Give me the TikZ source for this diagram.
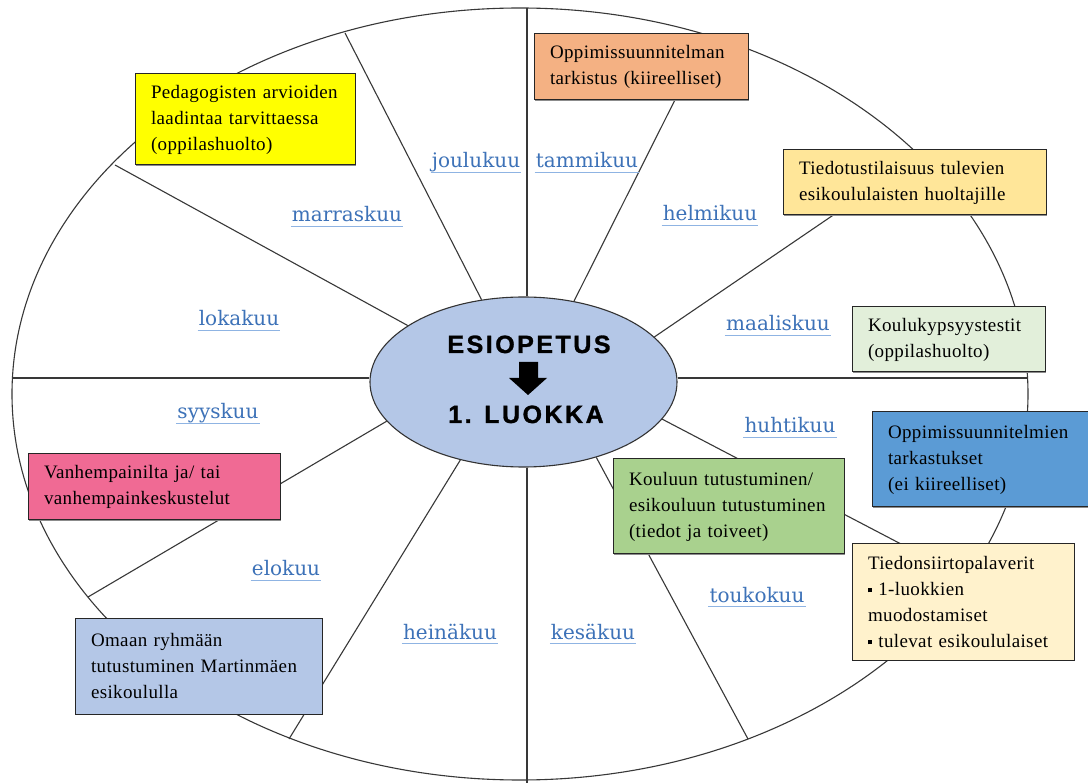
\documentclass[tikz,border=0pt]{standalone}
\usepackage{fontspec}
\setmainfont{Liberation Serif}
\newfontfamily\boxfont[LetterSpace=2]{Liberation Serif}
\newfontfamily\monthfont{DejaVu Serif}
\newfontfamily\headfont[LetterSpace=10,FakeBold=1.2]{Liberation Sans}
\usetikzlibrary{shapes.geometric,shadows}
\definecolor{cyellow}{HTML}{FFFF00}
\definecolor{corange}{HTML}{F4B183}
\definecolor{cgold}{HTML}{FFE699}
\definecolor{cmint}{HTML}{E2EFDA}
\definecolor{cblue}{HTML}{5B9BD5}
\definecolor{cgreen}{HTML}{A9D18E}
\definecolor{ccream}{HTML}{FFF2CC}
\definecolor{cpink}{HTML}{F06A94}
\definecolor{csteel}{HTML}{B4C7E7}
\definecolor{mtext}{HTML}{3D72B8}
\definecolor{mline}{HTML}{8FB4E3}
\tikzset{
  wheel/.style={draw=black!78, line width=1.1pt},
  box/.style={draw=black!85, line width=1pt, rectangle, inner xsep=16pt, inner ysep=0pt,
    align=left, font={\boxfont\fontsize{19}{26}\selectfont},
    drop shadow={shadow xshift=1.3pt, shadow yshift=-1.3pt, fill=black!45, opacity=1}},
  month/.style={font={\monthfont\fontsize{20}{24}\selectfont}, text=mtext, inner sep=1pt,
    text height=15pt, text depth=3pt,
    append after command={(\tikzlastnode.south west) edge[draw=mline, line width=1.1pt] (\tikzlastnode.south east)}},
  hub/.style={ellipse, draw=black!80, line width=1.1pt, fill=csteel, minimum width=307pt, minimum height=170pt, inner sep=0pt},
  headtxt/.style={font={\headfont\bfseries\fontsize{25}{28}\selectfont}, inner sep=0pt, anchor=base}
}
\begin{document}
\begin{tikzpicture}[x=1pt,y=-1pt]
\useasboundingbox (0,0) rectangle (1088,783);
\fill[white] (0,0) rectangle (1088,783);
% outer ellipse
\draw[wheel] (520,394) ellipse [x radius=508pt, y radius=386pt];
% hub
\node[hub] (c) at (523.5,382) {};
% spoke end points on the outer ellipse
\coordinate (pT) at (527,8);
\coordinate (pJ) at (706,38);
\coordinate (pI) at (920,156);
\coordinate (pR) at (1028,378);
\coordinate (pH) at (966,578);
\coordinate (pG) at (748,739);
\coordinate (pB0) at (527,790);
\coordinate (pE) at (289,739);
\coordinate (pD) at (88,597);
\coordinate (pL) at (12,378);
\coordinate (pBb) at (115,165);
\coordinate (pA) at (345,33);
\draw[wheel] (c.north -| pT) -- (pT);
\draw[wheel] (c.south -| pB0) -- (pB0);
\draw[wheel] (c.west |- pL) -- (pL);
\draw[wheel] (c.east |- pR) -- (pR);
\draw[wheel] (c.58.5) -- (pJ);
\draw[wheel] (c.19.7) -- (pI);
\draw[wheel] (c.-15.3) -- (pH);
\draw[wheel] (c.-46.7) -- (pG);
\draw[wheel] (c.-129.3) -- (pE);
\draw[wheel] (c.-164.9) -- (pD);
\draw[wheel] (c.154.1) -- (pBb);
\draw[wheel] (c.117.1) -- (pA);
% hub text
\node[headtxt] (h1) at (529,353) {ESIOPETUS};
\node[headtxt] (h2) at (526,423) {1. LUOKKA};
\fill[black] (519,362) -- (538,362) -- (538,378) -- (547,378) -- (528,395) -- (509,378) -- (519,378) -- cycle;
% months
\node[month] (m12) at (476,162) {joulukuu};
\node[month] (m1) at (587,162) {tammikuu};
\node[month] (m11) at (347,216) {marraskuu};
\node[month] (m2) at (710,215) {helmikuu};
\node[month] (m10) at (239,320) {lokakuu};
\node[month] (m3) at (778,325) {maaliskuu};
\node[month] (m9) at (218,413) {syyskuu};
\node[month] (m4) at (790,427) {huhtikuu};
\node[month] (m8) at (286,570) {elokuu};
\node[month] (m5) at (757,596) {toukokuu};
\node[month] (m7) at (450,633) {heinäkuu};
\node[month] (m6) at (593,633) {kesäkuu};
% boxes
\node[box, fill=cyellow, minimum width=220pt, minimum height=91pt, text width=188pt] (b1) at (245,119.5)
  {Pedagogisten arvioiden\\laadintaa tarvittaessa\\(oppilashuolto)};
\node[box, fill=corange, minimum width=214pt, minimum height=66pt, text width=182pt] (b2) at (641,67)
  {Oppimissuunnitelman\\tarkistus (kiireelliset)};
\node[box, fill=cgold, minimum width=263pt, minimum height=65pt, text width=231pt] (b3) at (914.5,182.5)
  {Tiedotustilaisuus tulevien\\esikoululaisten huoltajille};
\node[box, fill=cmint, minimum width=193pt, minimum height=65pt, text width=161pt] (b4) at (948.5,339.5)
  {Koulukypsyystestit\\(oppilashuolto)};
\node[box, fill=cblue, minimum width=220pt, minimum height=95pt, text width=188pt] (b5) at (982,459.5)
  {Oppimissuunnitelmien\\tarkastukset\\(ei kiireelliset)};
\node[box, fill=cgreen, minimum width=231pt, minimum height=95pt, text width=199pt] (b6) at (728.5,506.5)
  {Kouluun tutustuminen/\\esikouluun tutustuminen\\(tiedot ja toiveet)};
\node[box, fill=ccream, minimum width=222pt, minimum height=116pt, text width=190pt] (b7) at (963,602)
  {Tiedonsiirtopalaverit\\\rule[3pt]{4pt}{4pt} 1-luokkien\\muodostamiset\\\rule[3pt]{4pt}{4pt} tulevat esikoululaiset};
\node[box, fill=cpink, minimum width=252pt, minimum height=66pt, text width=220pt] (b8) at (154,487)
  {Vanhempainilta ja/ tai\\vanhempainkeskustelut};
\node[box, fill=csteel, minimum width=247pt, minimum height=96pt, text width=215pt] (b9) at (198.5,666)
  {Omaan ryhmään\\tutustuminen Martinmäen\\esikoululla};
\end{tikzpicture}
\end{document}
